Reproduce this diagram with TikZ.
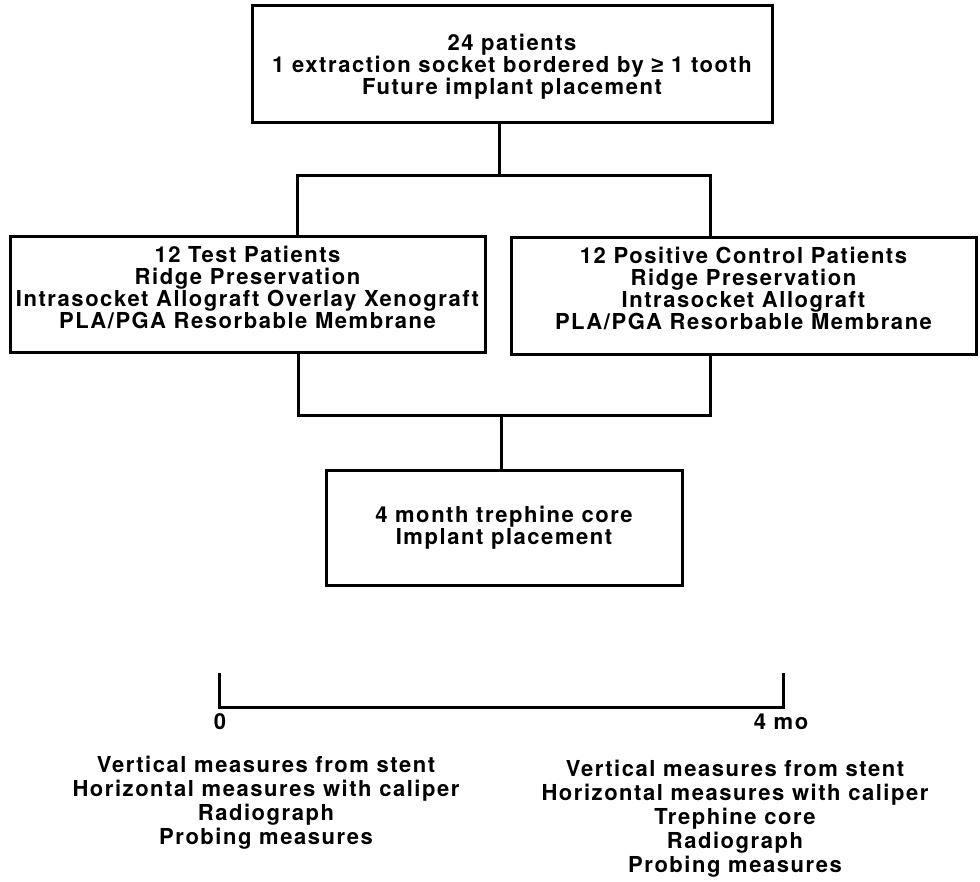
\documentclass[tikz,border=0pt]{standalone}
\usepackage{fontspec}
\setmainfont{TeX Gyre Heros}[LetterSpace=7]
\newfontfamily\symfont{Liberation Sans}
\newcommand{\geqsym}{{\symfont\bfseries\char"2265}}
\begin{document}
\begin{tikzpicture}[x=1pt,y=-1pt,
  box/.style={draw=black,line width=3pt,rectangle,inner sep=0pt,align=center,
    font=\fontsize{22}{22}\selectfont\bfseries},
  conn/.style={draw=black,line width=3pt,line join=miter},
  lbl/.style={inner sep=0pt,align=center,font=\fontsize{22}{24}\selectfont\bfseries}]
\useasboundingbox[fill=white] (0,0) rectangle (980,882);
% boxes (drawn empty, text placed with small offsets inside)
\node[box,minimum width=520pt,minimum height=117pt] (top) at (512,64.5) {};
\node[box,minimum width=475pt,minimum height=116pt] (left) at (247.5,295) {};
\node[box,minimum width=465pt,minimum height=117pt] (right) at (743.5,296.5) {};
\node[box,minimum width=356pt,minimum height=115pt] (bottom) at (504,527.5) {};
\node[box,draw=none] (toptext) at ([yshift=-2pt]top.center)
  {24 patients\\1 extraction socket bordered by \geqsym{} 1 tooth\\Future implant placement};
\node[box,draw=none] (lefttext) at ([yshift=8pt]left.center)
  {12 Test Patients\\Ridge Preservation\\Intrasocket Allograft Overlay Xenograft\\PLA/PGA Resorbable Membrane};
\node[box,draw=none] (righttext) at ([yshift=8pt]right.center)
  {12 Positive Control Patients\\Ridge Preservation\\Intrasocket Allograft\\PLA/PGA Resorbable Membrane};
\node[box,draw=none] (bottomtext) at (bottom.center)
  {4 month trephine core\\Implant placement};
% junctions
\coordinate (j1) at (499,176);
\coordinate (j1l) at (297,176);
\coordinate (j1r) at (710,176);
\coordinate (j2) at (501,416);
\coordinate (j2l) at (298,416);
\coordinate (j2r) at (710,416);
\draw[conn] (top.south -| j1) -- (j1);
\draw[conn] (j1l |- left.north) -- (j1l) -- (j1r) -- (j1r |- right.north);
\draw[conn] (j2l |- left.south) -- (j2l) -- (j2r) -- (j2r |- right.south);
\draw[conn] (j2) -- (j2 |- bottom.north);
% timeline
\coordinate (t0) at (219,707);
\coordinate (t4) at (783,707);
\coordinate (t0top) at (219,673);
\coordinate (t4top) at (783,673);
\draw[conn] (t0top) -- (t0) -- (t4) -- (t4top);
\node[lbl] (zero) at (220,722) {0};
\node[lbl] (four) at (781,722) {4 mo};
\node[lbl] (listl) at (266,803) {Vertical measures from stent\\Horizontal measures with caliper\\Radiograph\\Probing measures};
\node[lbl] (listr) at (735,819) {Vertical measures from stent\\Horizontal measures with caliper\\Trephine core\\Radiograph\\Probing measures};
\end{tikzpicture}
\end{document}
